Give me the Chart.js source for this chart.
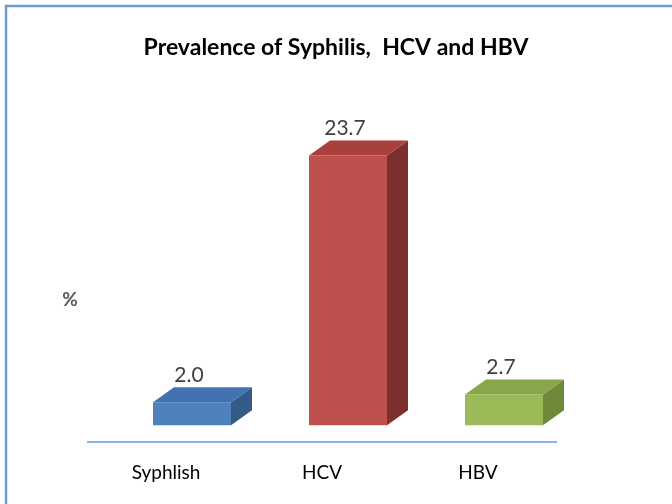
<!DOCTYPE html>
<html>
<head>
<meta charset="utf-8">
<script src="https://cdn.jsdelivr.net/npm/chart.js@4/dist/chart.umd.min.js"></script>
<style>
  html, body { margin: 0; padding: 0; background: #ffffff; }
  #wrap { width: 672px; height: 504px; position: relative; }
</style>
</head>
<body>
<div id="wrap"><canvas id="c" width="672" height="504"></canvas></div>
<script>
const categories = ["Syphlish", "HCV", "HBV"];
const prevalence = [2.0, 23.7, 2.7];
const valueLabels = ["2.0", "23.7", "2.7"];
const chartTitle = "Prevalence of Syphilis,  HCV and HBV";
const yAxisLabel = "%";

const frontColors = ["#4F81BD", "#C0504D", "#9BBB59"];
const topColors   = ["#4273B0", "#A8403D", "#88A74B"];
const sideColors  = ["#345A88", "#7D2F2D", "#6E8A38"];

const SHIFT = 26, DX = 21, DY = 15;
const FONT = "Lato, 'Open Sans', sans-serif";

const bar3d = {
  id: 'bar3d',
  beforeDraw(chart) {
    const ctx = chart.ctx;
    ctx.save();
    ctx.strokeStyle = "#6C9BD6";
    ctx.lineWidth = 2.5;
    ctx.beginPath();
    ctx.moveTo(6, 504);
    ctx.lineTo(6, 6);
    ctx.lineTo(672, 6);
    ctx.stroke();
    ctx.fillStyle = "#595959";
    ctx.font = "bold 19px " + FONT;
    ctx.textAlign = "center";
    ctx.textBaseline = "middle";
    ctx.fillText(yAxisLabel, 70, 300);
    ctx.restore();
  },
  beforeDatasetsDraw(chart) {
    const ctx = chart.ctx;
    ctx.save();
    ctx.translate(SHIFT, 0);
  },
  afterDatasetsDraw(chart) {
    const ctx = chart.ctx;
    ctx.restore();
    ctx.save();
    const meta = chart.getDatasetMeta(0);
    meta.data.forEach((bar, i) => {
      const w = bar.width;
      const l = bar.x - w / 2 + SHIFT, r = bar.x + w / 2 + SHIFT;
      const t = bar.y, b = bar.base;
      ctx.fillStyle = sideColors[i];
      ctx.beginPath();
      ctx.moveTo(r, t); ctx.lineTo(r + DX, t - DY);
      ctx.lineTo(r + DX, b - DY); ctx.lineTo(r, b);
      ctx.closePath(); ctx.fill();
      ctx.fillStyle = topColors[i];
      ctx.beginPath();
      ctx.moveTo(l, t); ctx.lineTo(l + DX, t - DY);
      ctx.lineTo(r + DX, t - DY); ctx.lineTo(r, t);
      ctx.closePath(); ctx.fill();
      ctx.fillStyle = "#404040";
      ctx.font = "21px " + FONT;
      ctx.textAlign = "center";
      ctx.textBaseline = "bottom";
      ctx.fillText(valueLabels[i], (l + r) / 2 - 3, t - DY - 2);
    });
    ctx.restore();
  }
};

const hiddenSide = (w) => ({
  display: true,
  ticks: { display: false },
  grid: { display: false, drawTicks: false },
  border: { display: false },
  afterFit(scale) { scale.width = w; }
});

new Chart(document.getElementById('c'), {
  type: 'bar',
  data: {
    labels: categories,
    datasets: [{
      data: prevalence,
      backgroundColor: frontColors,
      borderWidth: 0,
      categoryPercentage: 1.0,
      barPercentage: 0.5,
      yAxisID: 'y'
    }]
  },
  options: {
    responsive: false,
    animation: false,
    layout: { padding: { left: 4, right: 4, top: 17, bottom: 1 } },
    plugins: {
      legend: { display: false },
      tooltip: { enabled: false },
      title: {
        display: true,
        text: chartTitle,
        color: "#000000",
        font: { family: FONT, size: 23, weight: 'bold' },
        padding: { top: 17, bottom: 40 }
      }
    },
    scales: {
      x: {
        grid: { display: false, drawTicks: false },
        border: { display: true, color: "#8EB4E3", width: 2 },
        ticks: { color: "#000000", font: { family: FONT, size: 19 }, padding: 19, maxRotation: 0 }
      },
      y: Object.assign(hiddenSide(84), { position: 'left', min: -1.5, max: 28.43 }),
      y2: Object.assign(hiddenSide(112), { position: 'right', type: 'linear', min: 0, max: 1 })
    }
  },
  plugins: [bar3d]
});
</script>
</body>
</html>
